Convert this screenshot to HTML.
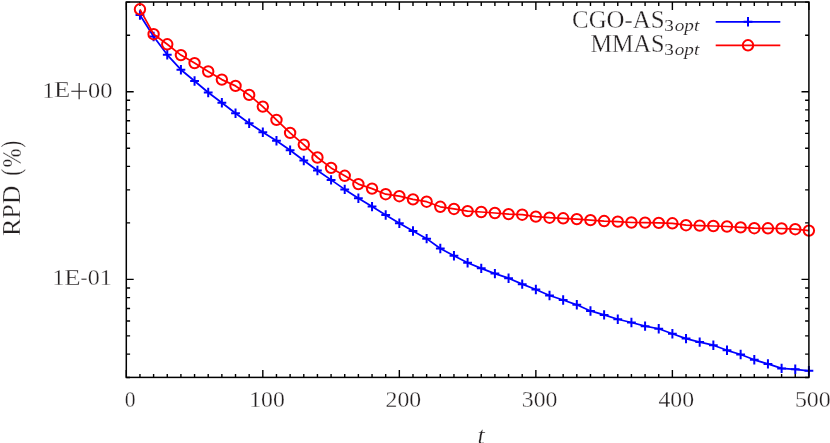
<!DOCTYPE html>
<html><head><meta charset="utf-8"><title>RPD vs t</title>
<style>
html,body{margin:0;padding:0;background:#fff;}
body{width:830px;height:443px;overflow:hidden;}
svg{display:block;will-change:transform;}
text{font-family:"Liberation Serif",serif;fill:#231f20;stroke:#fff;stroke-width:0.3px;}
text.s{stroke-width:0.12px;}
</style></head><body>
<svg width="830" height="443" viewBox="0 0 830 443">
<rect x="0" y="0" width="830" height="443" fill="#fff"/>
<path d="M126.30 377.40v-7.40M126.30 2.00v8.10M139.95 377.40v-3.50M139.95 2.00v3.90M153.60 377.40v-3.50M153.60 2.00v3.90M167.26 377.40v-3.50M167.26 2.00v3.90M180.91 377.40v-3.50M180.91 2.00v3.90M194.56 377.40v-3.50M194.56 2.00v3.90M208.21 377.40v-3.50M208.21 2.00v3.90M221.86 377.40v-3.50M221.86 2.00v3.90M235.52 377.40v-3.50M235.52 2.00v3.90M249.17 377.40v-3.50M249.17 2.00v3.90M262.82 377.40v-7.40M262.82 2.00v8.10M276.47 377.40v-3.50M276.47 2.00v3.90M290.12 377.40v-3.50M290.12 2.00v3.90M303.78 377.40v-3.50M303.78 2.00v3.90M317.43 377.40v-3.50M317.43 2.00v3.90M331.08 377.40v-3.50M331.08 2.00v3.90M344.73 377.40v-3.50M344.73 2.00v3.90M358.38 377.40v-3.50M358.38 2.00v3.90M372.04 377.40v-3.50M372.04 2.00v3.90M385.69 377.40v-3.50M385.69 2.00v3.90M399.34 377.40v-7.40M399.34 2.00v8.10M412.99 377.40v-3.50M412.99 2.00v3.90M426.64 377.40v-3.50M426.64 2.00v3.90M440.30 377.40v-3.50M440.30 2.00v3.90M453.95 377.40v-3.50M453.95 2.00v3.90M467.60 377.40v-3.50M467.60 2.00v3.90M481.25 377.40v-3.50M481.25 2.00v3.90M494.90 377.40v-3.50M494.90 2.00v3.90M508.56 377.40v-3.50M508.56 2.00v3.90M522.21 377.40v-3.50M522.21 2.00v3.90M535.86 377.40v-7.40M535.86 2.00v8.10M549.51 377.40v-3.50M549.51 2.00v3.90M563.16 377.40v-3.50M563.16 2.00v3.90M576.82 377.40v-3.50M576.82 2.00v3.90M590.47 377.40v-3.50M590.47 2.00v3.90M604.12 377.40v-3.50M604.12 2.00v3.90M617.77 377.40v-3.50M617.77 2.00v3.90M631.42 377.40v-3.50M631.42 2.00v3.90M645.08 377.40v-3.50M645.08 2.00v3.90M658.73 377.40v-3.50M658.73 2.00v3.90M672.38 377.40v-7.40M672.38 2.00v8.10M686.03 377.40v-3.50M686.03 2.00v3.90M699.68 377.40v-3.50M699.68 2.00v3.90M713.34 377.40v-3.50M713.34 2.00v3.90M726.99 377.40v-3.50M726.99 2.00v3.90M740.64 377.40v-3.50M740.64 2.00v3.90M754.29 377.40v-3.50M754.29 2.00v3.90M767.94 377.40v-3.50M767.94 2.00v3.90M781.60 377.40v-3.50M781.60 2.00v3.90M795.25 377.40v-3.50M795.25 2.00v3.90M808.90 377.40v-7.40M808.90 2.00v8.10M126.30 91.70h7.40M808.90 91.70h-7.40M126.30 35.20h3.80M808.90 35.20h-3.80M126.30 2.14h3.80M808.90 2.14h-3.80M126.30 279.40h7.40M808.90 279.40h-7.40M126.30 222.90h3.80M808.90 222.90h-3.80M126.30 189.84h3.80M808.90 189.84h-3.80M126.30 166.39h3.80M808.90 166.39h-3.80M126.30 148.20h3.80M808.90 148.20h-3.80M126.30 133.34h3.80M808.90 133.34h-3.80M126.30 120.78h3.80M808.90 120.78h-3.80M126.30 109.89h3.80M808.90 109.89h-3.80M126.30 100.29h3.80M808.90 100.29h-3.80M126.30 377.54h3.80M808.90 377.54h-3.80M126.30 354.09h3.80M808.90 354.09h-3.80M126.30 335.90h3.80M808.90 335.90h-3.80M126.30 321.04h3.80M808.90 321.04h-3.80M126.30 308.48h3.80M808.90 308.48h-3.80M126.30 297.59h3.80M808.90 297.59h-3.80M126.30 287.99h3.80M808.90 287.99h-3.80" fill="none" stroke="#000" stroke-width="1.40"/>
<polyline points="139.95,15.00 153.60,36.50 167.26,54.80 180.91,69.70 194.56,80.95 208.21,92.50 221.86,102.80 235.52,113.30 249.17,123.20 262.82,132.20 276.47,140.70 290.12,150.20 303.78,160.50 317.43,170.50 331.08,179.90 344.73,189.40 358.38,198.20 372.04,206.60 385.69,215.00 399.34,223.20 412.99,231.00 426.64,238.65 440.30,248.55 453.95,255.70 467.60,262.80 481.25,268.35 494.90,273.60 508.56,278.20 522.21,284.15 535.86,289.50 549.51,295.50 563.16,300.00 576.82,304.80 590.47,310.95 604.12,314.90 617.77,319.25 631.42,322.50 645.08,326.15 658.73,328.75 672.38,333.70 686.03,338.60 699.68,342.10 713.34,345.20 726.99,350.30 740.64,354.50 754.29,359.80 767.94,363.90 781.60,368.40 795.25,369.30 808.90,370.80" fill="none" stroke="#0000ff" stroke-width="1.75" stroke-linejoin="round"/>
<path d="M135.55 15.00h8.80M139.95 10.30v9.40M149.20 36.50h8.80M153.60 31.80v9.40M162.86 54.80h8.80M167.26 50.10v9.40M176.51 69.70h8.80M180.91 65.00v9.40M190.16 80.95h8.80M194.56 76.25v9.40M203.81 92.50h8.80M208.21 87.80v9.40M217.46 102.80h8.80M221.86 98.10v9.40M231.12 113.30h8.80M235.52 108.60v9.40M244.77 123.20h8.80M249.17 118.50v9.40M258.42 132.20h8.80M262.82 127.50v9.40M272.07 140.70h8.80M276.47 136.00v9.40M285.72 150.20h8.80M290.12 145.50v9.40M299.38 160.50h8.80M303.78 155.80v9.40M313.03 170.50h8.80M317.43 165.80v9.40M326.68 179.90h8.80M331.08 175.20v9.40M340.33 189.40h8.80M344.73 184.70v9.40M353.98 198.20h8.80M358.38 193.50v9.40M367.64 206.60h8.80M372.04 201.90v9.40M381.29 215.00h8.80M385.69 210.30v9.40M394.94 223.20h8.80M399.34 218.50v9.40M408.59 231.00h8.80M412.99 226.30v9.40M422.24 238.65h8.80M426.64 233.95v9.40M435.90 248.55h8.80M440.30 243.85v9.40M449.55 255.70h8.80M453.95 251.00v9.40M463.20 262.80h8.80M467.60 258.10v9.40M476.85 268.35h8.80M481.25 263.65v9.40M490.50 273.60h8.80M494.90 268.90v9.40M504.16 278.20h8.80M508.56 273.50v9.40M517.81 284.15h8.80M522.21 279.45v9.40M531.46 289.50h8.80M535.86 284.80v9.40M545.11 295.50h8.80M549.51 290.80v9.40M558.76 300.00h8.80M563.16 295.30v9.40M572.42 304.80h8.80M576.82 300.10v9.40M586.07 310.95h8.80M590.47 306.25v9.40M599.72 314.90h8.80M604.12 310.20v9.40M613.37 319.25h8.80M617.77 314.55v9.40M627.02 322.50h8.80M631.42 317.80v9.40M640.68 326.15h8.80M645.08 321.45v9.40M654.33 328.75h8.80M658.73 324.05v9.40M667.98 333.70h8.80M672.38 329.00v9.40M681.63 338.60h8.80M686.03 333.90v9.40M695.28 342.10h8.80M699.68 337.40v9.40M708.94 345.20h8.80M713.34 340.50v9.40M722.59 350.30h8.80M726.99 345.60v9.40M736.24 354.50h8.80M740.64 349.80v9.40M749.89 359.80h8.80M754.29 355.10v9.40M763.54 363.90h8.80M767.94 359.20v9.40M777.20 368.40h8.80M781.60 363.70v9.40M790.85 369.30h8.80M795.25 364.60v9.40M804.50 370.80h8.80M808.90 366.10v9.40" fill="none" stroke="#0000ff" stroke-width="2.00"/>
<polyline points="139.95,9.30 153.60,34.20 167.26,44.30 180.91,55.10 194.56,63.10 208.21,71.50 221.86,79.60 235.52,85.90 249.17,94.90 262.82,106.60 276.47,119.90 290.12,132.90 303.78,144.60 317.43,157.50 331.08,167.90 344.73,175.80 358.38,184.10 372.04,188.60 385.69,194.20 399.34,196.20 412.99,199.40 426.64,201.70 440.30,206.80 453.95,208.95 467.60,211.10 481.25,212.00 494.90,213.00 508.56,214.10 522.21,214.70 535.86,216.65 549.51,217.70 563.16,218.30 576.82,219.10 590.47,220.15 604.12,221.05 617.77,221.60 631.42,222.50 645.08,222.60 658.73,222.85 672.38,223.30 686.03,225.20 699.68,225.60 713.34,226.00 726.99,226.50 740.64,227.40 754.29,228.20 767.94,228.30 781.60,228.50 795.25,229.20 808.90,230.60" fill="none" stroke="#ff0000" stroke-width="1.75" stroke-linejoin="round"/>
<g fill="none" stroke="#ff0000" stroke-width="2.00">
<circle cx="139.95" cy="9.30" r="5.20"/>
<circle cx="153.60" cy="34.20" r="5.20"/>
<circle cx="167.26" cy="44.30" r="5.20"/>
<circle cx="180.91" cy="55.10" r="5.20"/>
<circle cx="194.56" cy="63.10" r="5.20"/>
<circle cx="208.21" cy="71.50" r="5.20"/>
<circle cx="221.86" cy="79.60" r="5.20"/>
<circle cx="235.52" cy="85.90" r="5.20"/>
<circle cx="249.17" cy="94.90" r="5.20"/>
<circle cx="262.82" cy="106.60" r="5.20"/>
<circle cx="276.47" cy="119.90" r="5.20"/>
<circle cx="290.12" cy="132.90" r="5.20"/>
<circle cx="303.78" cy="144.60" r="5.20"/>
<circle cx="317.43" cy="157.50" r="5.20"/>
<circle cx="331.08" cy="167.90" r="5.20"/>
<circle cx="344.73" cy="175.80" r="5.20"/>
<circle cx="358.38" cy="184.10" r="5.20"/>
<circle cx="372.04" cy="188.60" r="5.20"/>
<circle cx="385.69" cy="194.20" r="5.20"/>
<circle cx="399.34" cy="196.20" r="5.20"/>
<circle cx="412.99" cy="199.40" r="5.20"/>
<circle cx="426.64" cy="201.70" r="5.20"/>
<circle cx="440.30" cy="206.80" r="5.20"/>
<circle cx="453.95" cy="208.95" r="5.20"/>
<circle cx="467.60" cy="211.10" r="5.20"/>
<circle cx="481.25" cy="212.00" r="5.20"/>
<circle cx="494.90" cy="213.00" r="5.20"/>
<circle cx="508.56" cy="214.10" r="5.20"/>
<circle cx="522.21" cy="214.70" r="5.20"/>
<circle cx="535.86" cy="216.65" r="5.20"/>
<circle cx="549.51" cy="217.70" r="5.20"/>
<circle cx="563.16" cy="218.30" r="5.20"/>
<circle cx="576.82" cy="219.10" r="5.20"/>
<circle cx="590.47" cy="220.15" r="5.20"/>
<circle cx="604.12" cy="221.05" r="5.20"/>
<circle cx="617.77" cy="221.60" r="5.20"/>
<circle cx="631.42" cy="222.50" r="5.20"/>
<circle cx="645.08" cy="222.60" r="5.20"/>
<circle cx="658.73" cy="222.85" r="5.20"/>
<circle cx="672.38" cy="223.30" r="5.20"/>
<circle cx="686.03" cy="225.20" r="5.20"/>
<circle cx="699.68" cy="225.60" r="5.20"/>
<circle cx="713.34" cy="226.00" r="5.20"/>
<circle cx="726.99" cy="226.50" r="5.20"/>
<circle cx="740.64" cy="227.40" r="5.20"/>
<circle cx="754.29" cy="228.20" r="5.20"/>
<circle cx="767.94" cy="228.30" r="5.20"/>
<circle cx="781.60" cy="228.50" r="5.20"/>
<circle cx="795.25" cy="229.20" r="5.20"/>
<circle cx="808.90" cy="230.60" r="5.20"/>
</g>
<path d="M715.70 21.75H780.30" fill="none" stroke="#0000ff" stroke-width="1.75"/>
<path d="M748.00 17.05v9.40M743.60 21.75h8.80" fill="none" stroke="#0000ff" stroke-width="2.00"/>
<path d="M715.70 45.30H780.30" fill="none" stroke="#ff0000" stroke-width="1.75"/>
<circle cx="748.00" cy="45.30" r="5.20" fill="none" stroke="#ff0000" stroke-width="2.00"/>
<rect x="126.30" y="2.00" width="682.60" height="375.40" fill="none" stroke="#000" stroke-width="1.50"/>
<text x="572.10" y="27.80" font-size="25.00" textLength="92.40" lengthAdjust="spacingAndGlyphs">CGO-AS</text>
<text x="664.30" y="31.30" font-size="17.60" textLength="9.60" lengthAdjust="spacingAndGlyphs" class="s">3</text>
<text x="674.70" y="31.30" font-size="17.60" textLength="24.60" lengthAdjust="spacingAndGlyphs" font-style="italic" class="s">opt</text>
<text x="590.50" y="51.70" font-size="25.00" textLength="74.00" lengthAdjust="spacingAndGlyphs">MMAS</text>
<text x="664.30" y="55.25" font-size="17.60" textLength="9.60" lengthAdjust="spacingAndGlyphs" class="s">3</text>
<text x="674.70" y="55.25" font-size="17.60" textLength="24.60" lengthAdjust="spacingAndGlyphs" font-style="italic" class="s">opt</text>
<text x="124.70" y="407.30" font-size="24.10" textLength="10.80" lengthAdjust="spacingAndGlyphs">0</text>
<text x="249.20" y="407.30" font-size="24.10" textLength="35.60" lengthAdjust="spacingAndGlyphs">100</text>
<text x="385.60" y="407.30" font-size="24.10" textLength="35.60" lengthAdjust="spacingAndGlyphs">200</text>
<text x="521.80" y="407.30" font-size="24.10" textLength="35.60" lengthAdjust="spacingAndGlyphs">300</text>
<text x="658.50" y="407.30" font-size="24.10" textLength="35.60" lengthAdjust="spacingAndGlyphs">400</text>
<text x="794.90" y="407.30" font-size="24.10" textLength="35.80" lengthAdjust="spacingAndGlyphs">500</text>
<text x="42.40" y="97.60" font-size="24.10" textLength="12.00" lengthAdjust="spacingAndGlyphs">1</text>
<text x="54.10" y="97.30" font-size="24.00" textLength="16.30" lengthAdjust="spacingAndGlyphs">E</text>
<path d="M71.3 91.2h15.7M79.15 83.0v16.3" fill="none" stroke="#231f20" stroke-width="1.15"/>
<text x="88.00" y="97.60" font-size="24.10" textLength="24.40" lengthAdjust="spacingAndGlyphs">00</text>
<text x="52.50" y="285.20" font-size="24.10" textLength="12.00" lengthAdjust="spacingAndGlyphs">1</text>
<text x="64.20" y="284.90" font-size="24.00" textLength="16.30" lengthAdjust="spacingAndGlyphs">E</text>
<text x="80.60" y="284.90" font-size="24.00" textLength="7.00" lengthAdjust="spacingAndGlyphs">-</text>
<text x="87.70" y="285.20" font-size="24.10" textLength="24.00" lengthAdjust="spacingAndGlyphs">01</text>
<g transform="translate(20.4 235.6) rotate(-90)">
<text x="-0.50" y="0.00" font-size="25.00" textLength="50.70" lengthAdjust="spacingAndGlyphs">RPD</text>
<text x="59.80" y="0.00" font-size="27.00" textLength="7.00" lengthAdjust="spacingAndGlyphs">(</text>
<text x="68.10" y="0.80" font-size="27.00" textLength="19.00" lengthAdjust="spacingAndGlyphs">%</text>
<text x="87.80" y="0.00" font-size="27.00" textLength="7.00" lengthAdjust="spacingAndGlyphs">)</text>
</g>
<text x="477.40" y="443.50" font-size="25.00" textLength="7.20" lengthAdjust="spacingAndGlyphs" font-style="italic">t</text>
</svg></body></html>
